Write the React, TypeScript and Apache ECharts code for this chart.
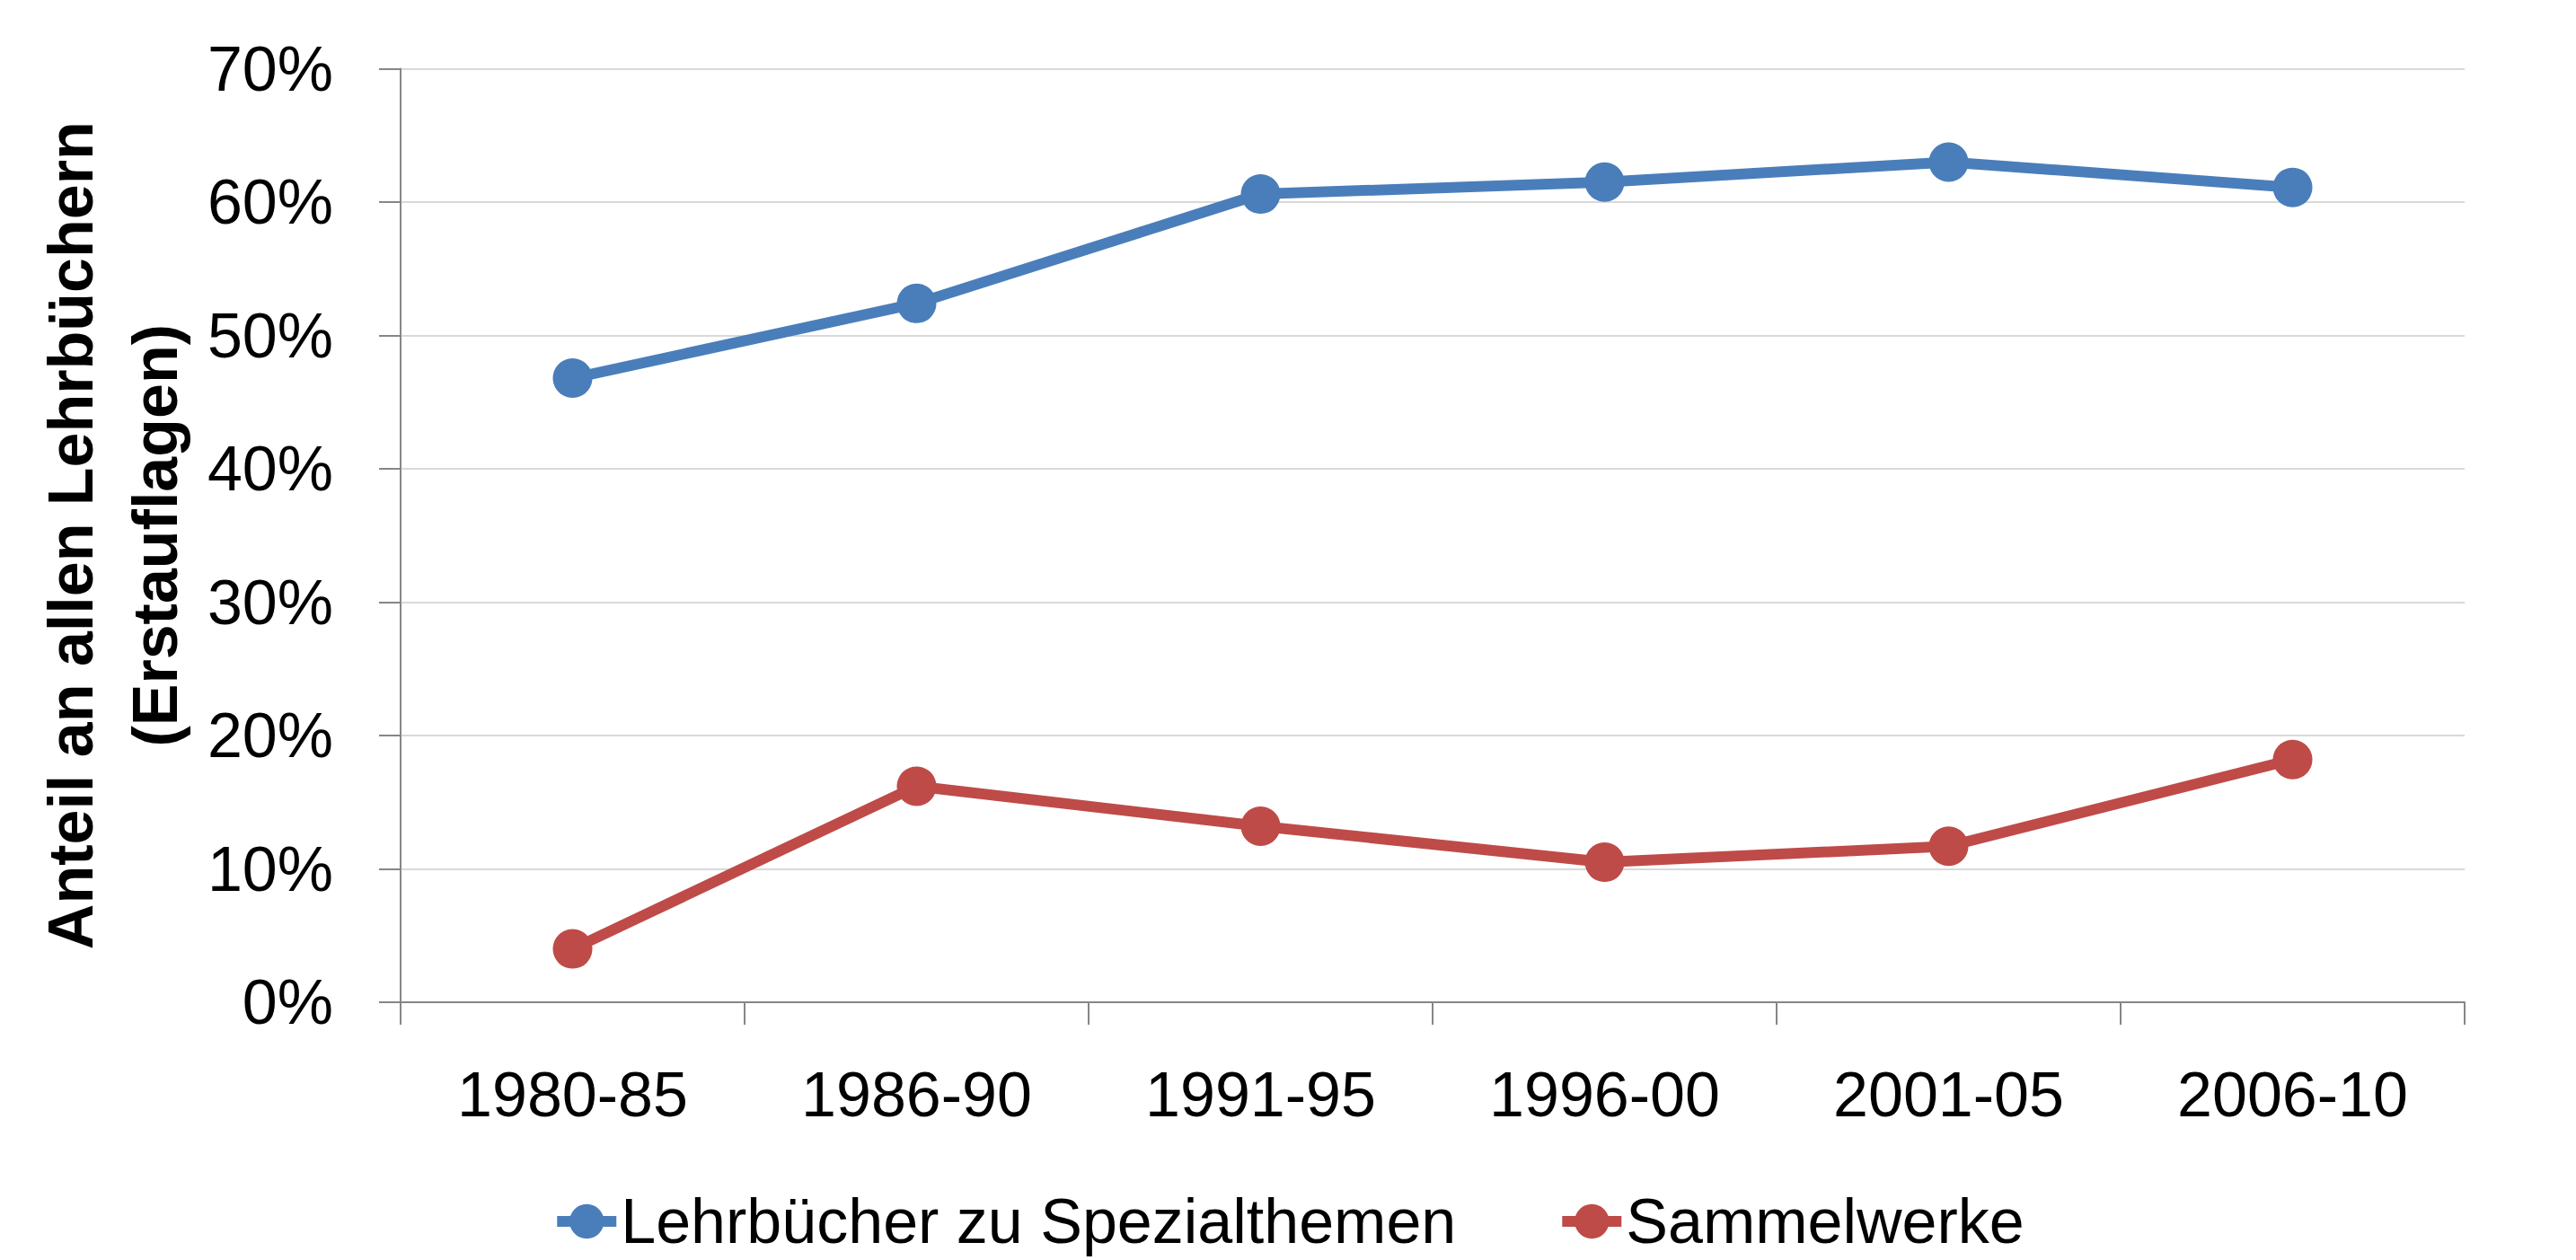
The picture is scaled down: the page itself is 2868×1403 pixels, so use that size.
import React, { useEffect, useRef } from "react";
import * as echarts from "echarts";

const categories = ["1980-85", "1986-90", "1991-95", "1996-00", "2001-05", "2006-10"];
const seriesNames = ["Lehrbücher zu Spezialthemen", "Sammelwerke"];
const spezialthemen = [46.8, 52.4, 60.6, 61.5, 63.0, 61.1];
const sammelwerke = [4.0, 16.2, 13.2, 10.5, 11.7, 18.2];
const yAxisTitle = "Anteil an allen Lehrbüchern\n(Erstauflagen)";
const yMin = 0;
const yMax = 70;
const yInterval = 10;

const FONT = "'Liberation Sans', Arial, sans-serif";

export default function App() {
  const ref = useRef<HTMLDivElement>(null);

  useEffect(() => {
    if (!ref.current) return;
    const chart = echarts.init(ref.current, undefined, { renderer: "svg" });
    const axisGray = "#868686";
    chart.setOption({
      animation: false,
      backgroundColor: "#ffffff",
      textStyle: { fontFamily: FONT, color: "#000" },
      grid: { left: 446, right: 124, top: 76.5, bottom: 287, containLabel: false },
      legend: {
        data: seriesNames,
        left: "center",
        top: 1320,
        itemWidth: 66,
        itemHeight: 48,
        itemGap: 112,
        lineStyle: { width: 12 },
        textStyle: { fontFamily: FONT, fontSize: 70, lineHeight: 56, color: "#000" },
      },
      xAxis: {
        type: "category",
        data: categories,
        boundaryGap: true,
        axisLine: { show: true, lineStyle: { color: axisGray, width: 2 } },
        axisTick: { show: true, length: 25, lineStyle: { color: axisGray, width: 2 } },
        axisLabel: { margin: 68, fontSize: 70, fontFamily: FONT, color: "#000" },
        splitLine: { show: false },
      },
      yAxis: {
        type: "value",
        min: yMin,
        max: yMax,
        interval: yInterval,
        name: yAxisTitle,
        nameLocation: "middle",
        nameRotate: 90,
        nameGap: 193,
        nameTextStyle: {
          fontFamily: FONT,
          fontSize: 70,
          fontWeight: "bold",
          color: "#000",
          lineHeight: 94,
          align: "center",
        },
        axisLine: { show: true, lineStyle: { color: axisGray, width: 2 } },
        axisTick: { show: true, length: 24, lineStyle: { color: axisGray, width: 2 } },
        axisLabel: {
          margin: 75,
          fontSize: 70,
          fontFamily: FONT,
          color: "#000",
          formatter: "{value}%",
        },
        splitLine: { show: true, lineStyle: { color: "#d9d9d9", width: 2 } },
      },
      series: [
        {
          name: seriesNames[0],
          type: "line",
          data: spezialthemen,
          symbol: "circle",
          symbolSize: 44,
          color: "#4a7ebb",
          lineStyle: { width: 12, color: "#4a7ebb" },
          itemStyle: { color: "#4a7ebb" },
        },
        {
          name: seriesNames[1],
          type: "line",
          data: sammelwerke,
          symbol: "circle",
          symbolSize: 44,
          color: "#be4b48",
          lineStyle: { width: 12, color: "#be4b48" },
          itemStyle: { color: "#be4b48" },
        },
      ],
    });
    return () => chart.dispose();
  }, []);

  return (
    <div
      ref={ref}
      style={{ position: "fixed", left: 0, top: 0, width: 2868, height: 1403, background: "#fff" }}
    />
  );
}
